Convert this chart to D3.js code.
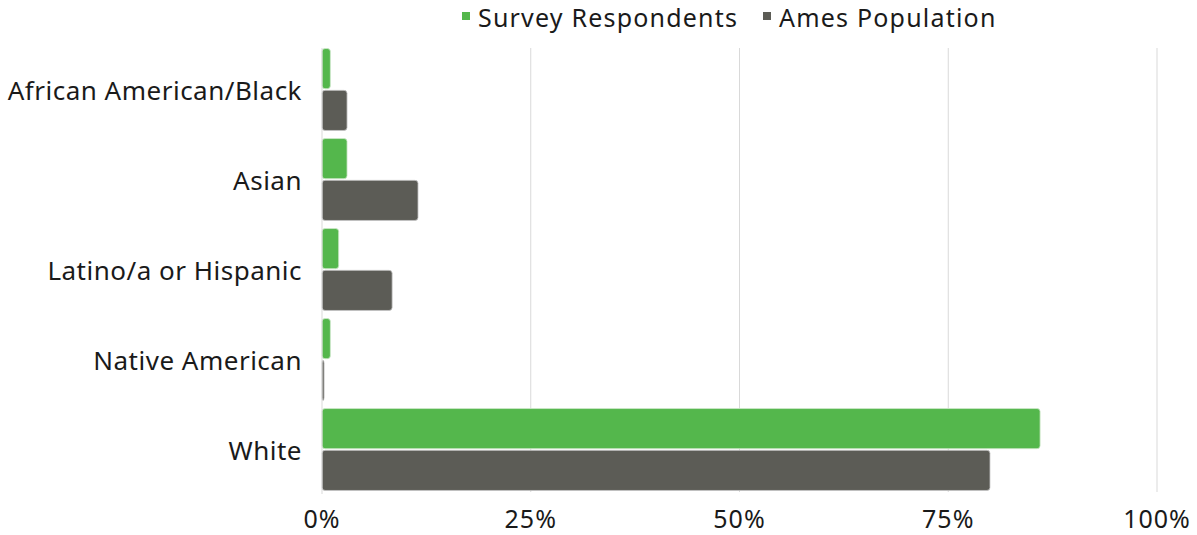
<!DOCTYPE html>
<html>
<head>
<meta charset="utf-8">
<script src="https://cdn.jsdelivr.net/npm/d3@7"></script>
<style>
  html, body { margin: 0; padding: 0; background: #fff; }
  svg { display: block; }
  text { font-family: "Noto Sans", "Open Sans", sans-serif; fill: #1a1a1a; letter-spacing: 0.5px; }
</style>
</head>
<body>
<svg id="chart" width="1197" height="535"></svg>
<script>
// Race / ethnicity breakdown: survey respondents vs. city population (percent)
const categories = ["African American/Black", "Asian", "Latino/a or Hispanic", "Native American", "White"];
const seriesNames = ["Survey Respondents", "Ames Population"];
const surveyRespondents = [1.0, 3.0, 2.0, 1.0, 86.0];
const amesPopulation = [3.0, 11.5, 8.4, 0.25, 80.0];
const tickValues = [0, 25, 50, 75, 100];
const tickLabels = ["0%", "25%", "50%", "75%", "100%"];
const colors = ["#54b74c", "#5c5c56"];

const svg = d3.select("#chart");
const plot = { left: 322, right: 1157, top: 44.5, bottom: 494.5 };
const fontSize = 26;

const x = d3.scaleLinear().domain([0, 100]).range([plot.left, plot.right]);
const y = d3.scaleBand().domain(categories).range([plot.top, plot.bottom]).paddingInner(0.09).paddingOuter(0.045);
const ySub = d3.scaleBand().domain(seriesNames).range([0, y.bandwidth()]).paddingInner(0.04);

// vertical gridlines
svg.append("g").selectAll("line").data(tickValues.slice(1)).join("line")
  .attr("x1", d => x(d)).attr("x2", d => x(d))
  .attr("y1", 48).attr("y2", 492)
  .attr("stroke", "#d9d9d9").attr("stroke-width", 1);

const rows = categories.map((c, i) => ({ c, vals: [surveyRespondents[i], amesPopulation[i]] }));

const groups = svg.append("g").selectAll("g").data(rows).join("g")
  .attr("transform", d => `translate(0,${y(d.c)})`);

groups.selectAll("rect").data(d => d.vals.map((v, j) => ({ v, s: seriesNames[j], j }))).join("rect")
  .attr("x", x(0))
  .attr("y", d => ySub(d.s))
  .attr("width", d => Math.max(0.8, x(d.v) - x(0)))
  .attr("height", ySub.bandwidth())
  .attr("rx", 3).attr("ry", 3)
  .attr("fill", d => colors[d.j])
  .attr("stroke", d => d.j === 1 ? "#c8c8c8" : "#cfe9cc")
  .attr("stroke-width", 0.8);

// baseline
svg.append("line").attr("x1", x(0)).attr("x2", x(0)).attr("y1", 48).attr("y2", 494)
  .attr("stroke", "#d9d9d9").attr("stroke-width", 1);

// category labels
svg.append("g").selectAll("text").data(categories).join("text")
  .attr("x", 302)
  .attr("y", d => y(d) + y.bandwidth() / 2)
  .attr("text-anchor", "end")
  .attr("dominant-baseline", "central")
  .attr("font-size", fontSize)
  .text(d => d);

// x tick labels
svg.append("g").selectAll("text").data(tickValues).join("text")
  .attr("x", d => x(d))
  .attr("y", 527.5)
  .attr("text-anchor", "middle")
  .attr("font-size", 25)
  .style("letter-spacing", "1px")
  .text((d, i) => tickLabels[i]);

// legend
const legendX = [462, 763];
const legend = svg.append("g").selectAll("g").data(seriesNames).join("g")
  .attr("transform", (d, i) => `translate(${legendX[i]},0)`);
legend.append("rect").attr("x", 0).attr("y", 12).attr("width", 8).attr("height", 8)
  .attr("fill", (d, i) => colors[i]);
legend.append("text").attr("x", 16).attr("y", 27).attr("font-size", 25)
  .style("letter-spacing", "1.2px")
  .text(d => d);
</script>
</body>
</html>
